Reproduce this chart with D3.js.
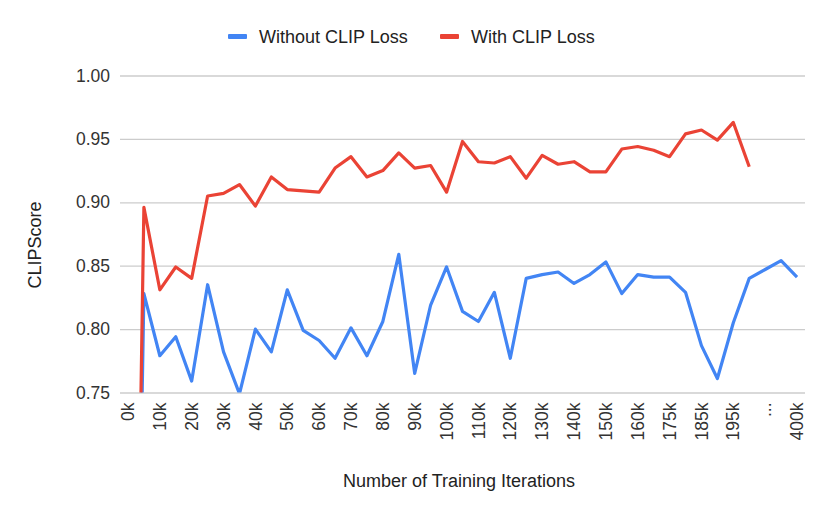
<!DOCTYPE html>
<html lang="en">
<head>
<meta charset="utf-8">
<title>CLIPScore vs training iterations</title>
<script src="https://cdn.jsdelivr.net/npm/d3@7"></script>
<style>
  body { margin: 0; background: #fff; }
  text { font-family: Arial, "Liberation Sans", sans-serif; }
</style>
</head>
<body>
<script>
// categories (every other label is shown on the axis)
var categories = ["0k","5k","10k","15k","20k","25k","30k","35k","40k","45k",
  "50k","55k","60k","65k","70k","75k","80k","85k","90k","95k",
  "100k","105k","110k","115k","120k","125k","130k","135k","140k","145k",
  "150k","155k","160k","170k","175k","180k","185k","190k","195k","200k",
  "...","300k","400k"];

var withoutClip = [0.1, 0.828, 0.779, 0.794, 0.759, 0.835, 0.782, 0.749, 0.800, 0.782,
  0.831, 0.799, 0.791, 0.777, 0.801, 0.779, 0.806, 0.859, 0.765, 0.819,
  0.849, 0.814, 0.806, 0.829, 0.777, 0.840, 0.843, 0.845, 0.836, 0.843,
  0.853, 0.828, 0.843, 0.841, 0.841, 0.829, 0.787, 0.761, 0.805, 0.840,
  0.847, 0.854, 0.841];

var withClip = [0.1, 0.896, 0.831, 0.849, 0.840, 0.905, 0.907, 0.914, 0.897, 0.920,
  0.910, 0.909, 0.908, 0.927, 0.936, 0.920, 0.925, 0.939, 0.927, 0.929,
  0.908, 0.948, 0.932, 0.931, 0.936, 0.919, 0.937, 0.930, 0.932, 0.924,
  0.924, 0.942, 0.944, 0.941, 0.936, 0.954, 0.957, 0.949, 0.963, 0.928,
  null, null, null];

var yTicks = [0.75, 0.80, 0.85, 0.90, 0.95, 1.00];

var seriesNames = ["Without CLIP Loss", "With CLIP Loss"];
var seriesColors = ["#4285f4", "#ea4335"];

var w = 830, h = 518;
var plotLeft = 120, plotRight = 805, plotTop = 75.5, plotBottom = 392.5;

var svg = d3.select("body").append("svg")
  .attr("width", w)
  .attr("height", h);

var x = d3.scaleBand()
  .domain(categories)
  .range([plotLeft, plotRight])
  .padding(0);

var y = d3.scaleLinear()
  .domain([0.75, 1.0])
  .range([plotBottom, plotTop]);

function cx(c) { return x(c) + x.bandwidth() / 2; }

// y axis with gridlines
var yAxis = svg.append("g")
  .attr("transform", "translate(" + plotLeft + ",0)")
  .call(d3.axisLeft(y)
    .tickValues(yTicks)
    .tickFormat(d3.format(".2f"))
    .tickSizeInner(-(plotRight - plotLeft))
    .tickSizeOuter(0)
    .tickPadding(10));
yAxis.select(".domain").remove();
yAxis.selectAll("line").attr("stroke", "#cccccc").attr("stroke-width", 1.3);
yAxis.selectAll("text")
  .attr("fill", "#333")
  .style("font-size", "17.5px");

// x axis, rotated labels, every other category
var xAxis = svg.append("g")
  .attr("transform", "translate(0," + plotBottom + ")")
  .call(d3.axisBottom(x)
    .tickValues(categories.filter(function(d, i) { return i % 2 === 0; }))
    .tickSize(0)
    .tickPadding(0));
xAxis.select(".domain").remove();
xAxis.selectAll("text")
  .attr("fill", "#333")
  .style("font-size", "17.5px")
  .attr("text-anchor", "end")
  .attr("transform", "rotate(-90)")
  .attr("x", -10)
  .attr("y", 0)
  .attr("dy", "0.35em");

// lines, clipped to the plot area
svg.append("clipPath")
  .attr("id", "plot")
  .append("rect")
  .attr("x", plotLeft)
  .attr("y", plotTop - 10)
  .attr("width", plotRight - plotLeft)
  .attr("height", plotBottom - plotTop + 10);

var line = d3.line()
  .defined(function(d) { return d != null; })
  .x(function(d, i) { return cx(categories[i]); })
  .y(function(d) { return y(d); });

var lines = svg.append("g").attr("clip-path", "url(#plot)");
[withoutClip, withClip].forEach(function(s, k) {
  lines.append("path")
    .datum(s)
    .attr("fill", "none")
    .attr("stroke", seriesColors[k])
    .attr("stroke-width", 3.2)
    .attr("stroke-linejoin", "round")
    .attr("d", line);
});

// axis titles
svg.append("text")
  .attr("x", 459)
  .attr("y", 487)
  .attr("text-anchor", "middle")
  .attr("fill", "#222")
  .style("font-size", "18px")
  .text("Number of Training Iterations");

svg.append("text")
  .attr("transform", "translate(41,245) rotate(-90)")
  .attr("text-anchor", "middle")
  .attr("fill", "#222")
  .style("font-size", "18px")
  .text("CLIPScore");

// legend
var legendX = [228, 440];
seriesNames.forEach(function(name, k) {
  svg.append("rect")
    .attr("x", legendX[k])
    .attr("y", 34)
    .attr("width", 19)
    .attr("height", 5)
    .attr("rx", 1)
    .attr("fill", seriesColors[k]);
  svg.append("text")
    .attr("x", legendX[k] + 31)
    .attr("y", 43)
    .attr("fill", "#222")
    .style("font-size", "18px")
    .text(name);
});
</script>
</body>
</html>
